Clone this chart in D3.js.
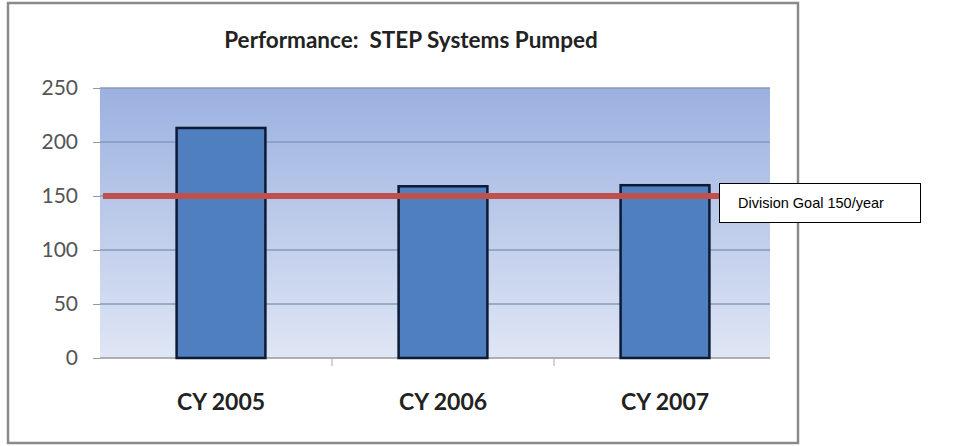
<!DOCTYPE html>
<meta charset="utf-8">
<script src="https://d3js.org/d3.v7.min.js"></script>
<style>
  body { margin: 0; background: #fff; }
  svg text { font-family: Lato, "Open Sans", sans-serif; }
</style>
<div id="chart"></div>
<script>
// data
const years = ["CY 2005", "CY 2006", "CY 2007"];
const pumped = [213, 159, 160];
const yTicks = [0, 50, 100, 150, 200, 250];
const goal = 150;
const goalLabel = "Division Goal 150/year";
const title = "Performance:  STEP Systems Pumped";

const W = 966, H = 446;
const plot = {left: 100, right: 770, top: 88, bottom: 358};

const svg = d3.select("#chart").append("svg")
  .attr("width", W).attr("height", H);

// gradient for the plot area
const grad = svg.append("defs").append("linearGradient")
  .attr("id", "bg").attr("x1", 0).attr("y1", 0).attr("x2", 0).attr("y2", 1);
grad.append("stop").attr("offset", "0%").attr("stop-color", "#9bb1e0");
grad.append("stop").attr("offset", "100%").attr("stop-color", "#dfe6f5");

// outer frame
svg.append("rect")
  .attr("x", 8).attr("y", 3).attr("width", 790).attr("height", 440)
  .attr("fill", "#fff").attr("stroke", "#8a8a8a").attr("stroke-width", 2.5);

const x = d3.scaleBand()
  .domain(years)
  .range([110, 776])
  .paddingInner(0.6)
  .paddingOuter(0.3);

const y = d3.scaleLinear()
  .domain([0, 250])
  .range([plot.bottom, plot.top]);

svg.append("rect")
  .attr("x", plot.left).attr("y", plot.top)
  .attr("width", plot.right - plot.left).attr("height", plot.bottom - plot.top)
  .attr("fill", "url(#bg)");

// gridlines
svg.append("g").selectAll("line")
  .data(yTicks.filter(d => d > 0))
  .join("line")
    .attr("x1", plot.left).attr("x2", plot.right)
    .attr("y1", d => y(d)).attr("y2", d => y(d))
    .attr("stroke", "#8798bb").attr("stroke-width", 1.5);

// y axis
const yAxis = svg.append("g")
  .attr("transform", `translate(${plot.left},0)`)
  .call(d3.axisLeft(y).tickValues(yTicks).tickSize(7).tickPadding(15));
yAxis.select(".domain").remove();
yAxis.selectAll("line").attr("stroke", "#999");
yAxis.selectAll("text")
  .attr("fill", "#555").style("font-size", "21px");

// x axis
const xAxis = svg.append("g")
  .attr("transform", `translate(0,${plot.bottom})`)
  .call(d3.axisBottom(x).tickSize(0).tickPadding(36));
xAxis.select(".domain").attr("d", `M${plot.left},0H${plot.right}`)
  .attr("stroke", "#999").attr("stroke-width", 1.5);
xAxis.selectAll("text")
  .attr("fill", "#222").style("font-size", "23px").style("font-weight", "bold");
// category boundary ticks, halfway between bars
svg.append("g").selectAll("line")
  .data(years.slice(1))
  .join("line")
    .attr("x1", d => x(d) + x.bandwidth() / 2 - x.step() / 2)
    .attr("x2", d => x(d) + x.bandwidth() / 2 - x.step() / 2)
    .attr("y1", plot.bottom).attr("y2", plot.bottom + 8)
    .attr("stroke", "#aaa");

// bars
svg.append("g").selectAll("rect")
  .data(years)
  .join("rect")
    .attr("x", d => x(d))
    .attr("y", (d, i) => y(pumped[i]))
    .attr("width", x.bandwidth())
    .attr("height", (d, i) => y(0) - y(pumped[i]))
    .attr("fill", "#4f7fbe")
    .attr("stroke", "#0d1a33").attr("stroke-width", 2.5);

// goal line
svg.append("line")
  .attr("x1", plot.left + 3).attr("x2", 719)
  .attr("y1", y(goal)).attr("y2", y(goal))
  .attr("stroke", "#c0504d").attr("stroke-width", 6);

// goal label box
svg.append("rect")
  .attr("x", 719.5).attr("y", 183.5).attr("width", 201).attr("height", 39)
  .attr("fill", "#fff").attr("stroke", "#000").attr("stroke-width", 1);
svg.append("text")
  .attr("x", 738).attr("y", 208)
  .style("font-family", "'Liberation Sans', Arial, sans-serif")
  .style("font-size", "14.5px")
  .attr("fill", "#000")
  .text(goalLabel);

// title
svg.append("text")
  .attr("x", 411).attr("y", 48)
  .attr("text-anchor", "middle")
  .style("font-size", "22.5px").style("font-weight", "bold")
  .style("white-space", "pre")
  .attr("fill", "#222")
  .text(title);
</script>
